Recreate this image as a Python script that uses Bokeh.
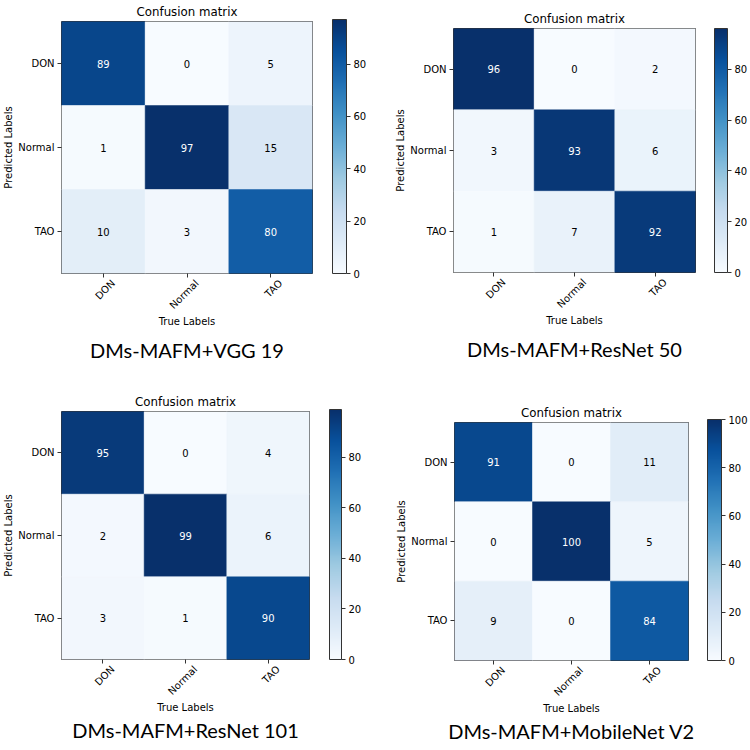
import math
from bokeh.plotting import figure
from bokeh.models import (ColumnDataSource, LinearColorMapper, ColorBar, FixedTicker,
                          Title, Range1d, LinearAxis)
from bokeh.layouts import column, row
from bokeh.transform import transform
from bokeh.embed import file_html
from bokeh.resources import INLINE
from bokeh.core.properties import value

# ---------------- data ----------------
classes = ["DON", "Normal", "TAO"]
captions = ["DMs-MAFM+VGG 19", "DMs-MAFM+ResNet 50", "DMs-MAFM+ResNet 101", "DMs-MAFM+MobileNet V2"]
# rows = predicted label, columns = true label
vgg19 = [[89, 0, 5], [1, 97, 15], [10, 3, 80]]
resnet50 = [[96, 0, 2], [3, 93, 6], [1, 7, 92]]
resnet101 = [[95, 0, 4], [2, 99, 6], [3, 1, 90]]
mobilenetv2 = [[91, 0, 11], [0, 100, 5], [9, 0, 84]]
colorbar_ticks = [0, 20, 40, 60, 80, 100]

# ---------------- style ----------------
blues9 = ["#f7fbff", "#deebf7", "#c6dbef", "#9ecae1", "#6baed6",
          "#4292c6", "#2171b5", "#08519c", "#08306b"]


def interp_palette(colors, n):
    rgb = [tuple(int(c[i:i + 2], 16) for i in (1, 3, 5)) for c in colors]
    out = []
    m = len(rgb) - 1
    for k in range(n):
        t = k / (n - 1) * m
        i = min(int(t), m - 1)
        f = t - i
        r, g, b = (round(rgb[i][j] + (rgb[i + 1][j] - rgb[i][j]) * f) for j in range(3))
        out.append("#%02x%02x%02x" % (r, g, b))
    return out


BLUES = interp_palette(blues9, 256)
PANEL_W = 375
PANEL_H = 371
FONT = "DejaVu Sans"
CAPTION_FONT = "Lato"
LABEL_SHIFT = 10  # rotated tick labels centred on ticks (as matplotlib does)

# panel geometry in pixels (panel-local)
geo = [
    dict(L=59, T=19, W=253, H=254, gap=20, cbw=14, capx=183, capgap=13),
    dict(L=78, T=28, W=243, H=244, gap=19, cbw=13, capx=204, capgap=13),
    dict(L=59, T=40, W=250, H=250, gap=20, cbw=12, capx=175, capgap=1),
    dict(L=79, T=51, W=240, H=241, gap=19, cbw=14, capx=207, capgap=0),
]


def make_panel(matrix, caption, g):
    ncls = len(classes)
    vmax = max(max(r) for r in matrix)
    xs, ys, vs, labels, tcolors = [], [], [], [], []
    for i, pred in enumerate(classes):
        for j, true in enumerate(classes):
            v = matrix[i][j]
            xs.append(classes.index(true) + 0.5)   # column centre of the true class
            ys.append(pred)
            vs.append(v)
            labels.append(str(v))
            tcolors.append("white" if v > vmax / 2 else "black")
    src = ColumnDataSource(dict(x=xs, y=ys, v=vs, label=labels, tc=tcolors))
    mapper = LinearColorMapper(palette=BLUES, low=0, high=vmax)

    left, top, fw, fh = g["L"], g["T"], g["W"], g["H"]
    p = figure(width=PANEL_W, height=PANEL_H,
               x_range=Range1d(0, ncls), y_range=classes[::-1],
               output_backend="svg", toolbar_location=None,
               min_border_left=left, min_border_top=top,
               min_border_right=PANEL_W - left - fw, min_border_bottom=PANEL_H - top - fh,
               title="Confusion matrix")
    p.title.align = "center"
    p.title.text_font = FONT
    p.title.text_font_size = "11.8px"
    p.title.text_font_style = "normal"
    p.title.text_color = "black"
    p.title.standoff = 5

    p.rect(x="x", y="y", width=1, height=1, source=src,
           fill_color=transform("v", mapper), line_color=transform("v", mapper), line_width=0.5)
    p.text(x="x", y="y", text="label", text_color="tc", source=src,
           text_align="center", text_baseline="middle",
           text_font=value(FONT), text_font_size="10px")

    p.grid.visible = False
    p.outline_line_color = "#333333"
    p.outline_line_width = 1

    tick_pos = [k + 0.5 for k in range(ncls)]
    main_x = p.xaxis[0]
    main_x.ticker = FixedTicker(ticks=tick_pos)
    main_x.major_label_overrides = {t: "" for t in tick_pos}

    # label-only x axis on a shifted view of the same columns, so that the rotated
    # labels sit centred under their ticks (matplotlib style)
    shift = LABEL_SHIFT / (fw / ncls)
    p.extra_x_ranges = {"lab": Range1d(start=-shift, end=ncls - shift)}
    lab_axis = LinearAxis(x_range_name="lab", ticker=FixedTicker(ticks=tick_pos),
                          major_label_overrides={t: c for t, c in zip(tick_pos, classes)})
    p.add_layout(lab_axis, "below")

    for ax in (main_x, lab_axis, p.yaxis[0]):
        ax.axis_line_color = None
        ax.major_tick_in = 0
        ax.major_tick_out = 4
        ax.major_tick_line_color = "#333333"
        ax.minor_tick_line_color = None
        ax.major_label_text_font = FONT
        ax.major_label_text_font_size = "10px"
        ax.major_label_text_color = "black"
        ax.axis_label_text_font = FONT
        ax.axis_label_text_font_size = "10px"
        ax.axis_label_text_font_style = "normal"
        ax.axis_label_text_color = "black"
        ax.major_label_standoff = 3
        ax.axis_label_standoff = 1
    main_x.major_label_standoff = 0
    lab_axis.major_tick_out = 0
    lab_axis.major_tick_line_color = None
    lab_axis.major_label_standoff = 4
    lab_axis.axis_label_standoff = -2
    lab_axis.major_label_orientation = math.pi / 4
    lab_axis.axis_label = "True Labels"
    p.yaxis.axis_label = "Predicted Labels"

    cb = ColorBar(color_mapper=mapper,
                  ticker=FixedTicker(ticks=[t for t in colorbar_ticks if t <= vmax]),
                  location=(g["gap"], 0), width=g["cbw"], height=fh,
                  margin=0, padding=0, label_standoff=3,
                  major_tick_in=0, major_tick_out=4, major_tick_line_color="#333333",
                  minor_tick_line_color=None,
                  bar_line_color="#333333", bar_line_width=1,
                  border_line_color=None, background_fill_color=None,
                  major_label_text_font=FONT,
                  major_label_text_font_size="10px",
                  major_label_text_color="black")
    p.add_layout(cb, "right")

    cap = Title(text=caption, align="center", text_font=CAPTION_FONT,
                text_font_size="20px", text_font_style="normal", text_color="black",
                offset=g["capx"] - (left + fw / 2), standoff=g["capgap"])
    p.add_layout(cap, "below")
    return column(p)


mats = [vgg19, resnet50, resnet101, mobilenetv2]
panels = [make_panel(m, c, g) for m, c, g in zip(mats, captions, geo)]
layout = column(row(panels[0], panels[1], spacing=0), row(panels[2], panels[3], spacing=0), spacing=0)

open("out.html", "w").write(file_html(layout, INLINE))
